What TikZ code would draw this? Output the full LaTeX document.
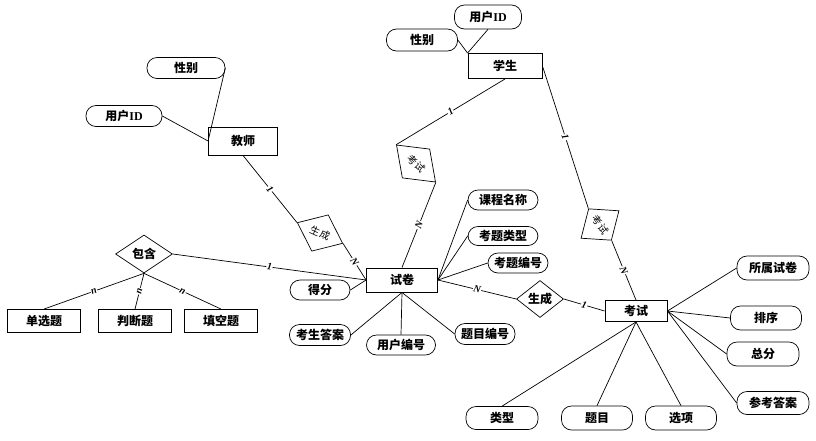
\documentclass[tikz,border=0pt]{standalone}
\usepackage{fontspec}
\setmainfont{Noto Sans CJK SC}
\newfontfamily\latinfont{Liberation Serif}
\usetikzlibrary{shapes.geometric}

\begin{document}
\begin{tikzpicture}[x=1pt, y=-1pt, line width=0.7pt,
  entity/.style={draw, line width=0.9pt, inner sep=0pt, minimum width=72pt, minimum height=24pt,
    font=\fontsize{12}{14}\selectfont\bfseries},
  attr/.style={draw, rectangle, rounded corners=10pt, inner sep=0pt, minimum width=71pt, minimum height=22pt,
    font=\fontsize{12}{14}\selectfont\bfseries},
  rel/.style={draw, diamond, inner sep=0pt, font=\fontsize{12}{14}\selectfont\bfseries},
  tilted/.style={draw, diamond, inner sep=0pt, font=\fontsize{10}{12}\selectfont},
  card/.style={sloped, fill=white, inner sep=0.6pt, font=\latinfont\itshape\bfseries\fontsize{10}{12}\selectfont}]
  \useasboundingbox (0,0) rectangle (816,440);

  % entities
  \node[entity, minimum width=69pt, minimum height=28pt] (teacher) at (243,141) {教师};
  \node[entity, minimum width=74pt, minimum height=25pt] (student) at (505,66) {学生};
  \node[entity, minimum width=71pt] (paper) at (402,280) {试卷};
  \node[entity, minimum width=62pt, minimum height=21pt] (exam) at (636,311) {考试};
  \node[entity, minimum width=73pt, minimum height=23pt] (single) at (44,321) {单选题};
  \node[entity, minimum width=73pt, minimum height=23pt] (judge) at (135,321) {判断题};
  \node[entity, minimum width=73pt, minimum height=23pt] (blank) at (221,321) {填空题};

  % relationships
  \node[rel, minimum width=57pt, minimum height=38pt] (contain) at (144,254) {包含};
  \node[rel, minimum width=47pt, minimum height=37pt] (genexam) at (540,299) {生成};
  \node[tilted, minimum width=50pt, minimum height=40pt, rotate=-24.5] (genpaper) at (320,233) {生\kern1pt 成};
  \node[tilted, minimum width=54pt, minimum height=40pt, rotate=-43.5] (takepaper) at (416,163.5) {考\kern1pt 试};
  \node[tilted, minimum width=39pt, minimum height=47pt, rotate=-54] (takeexam) at (600,224.5) {考\kern1pt 试};

  % attributes of teacher and student
  \node[attr, minimum width=78pt, minimum height=21pt] (tsex) at (186,68) {性别};
  \node[attr, minimum width=76pt, minimum height=21pt] (tuid) at (124,116) {用户{\latinfont ID}};
  \node[attr, minimum width=67pt, minimum height=24pt] (suid) at (488,17) {用户{\latinfont ID}};
  \node[attr, minimum height=22pt] (ssex) at (422,40) {性别};
  % attributes of paper
  \node[attr, minimum width=70pt, minimum height=20pt] (course) at (503,200) {课程名称};
  \node[attr, minimum width=70pt, minimum height=19pt] (qtype) at (503,236) {考题类型};
  \node[attr, minimum width=60pt, minimum height=20pt] (qno) at (518,263) {考题编号};
  \node[attr, minimum width=60pt, minimum height=20pt] (score) at (320,290) {得分};
  \node[attr, minimum width=61pt, minimum height=21pt] (answer) at (320,335) {考生答案};
  \node[attr, minimum width=69pt, minimum height=20pt] (userno) at (401,345) {用户编号};
  \node[attr, minimum width=60pt, minimum height=21pt] (itemno) at (485,334) {题目编号};
  % attributes of exam
  \node[attr, minimum width=72pt, minimum height=23pt] (kind) at (502,418) {类型};
  \node[attr, minimum height=24pt] (item) at (597,418) {题目};
  \node[attr, minimum height=24pt] (option) at (681,418) {选项};
  \node[attr, minimum width=72pt, minimum height=24pt] (owner) at (773,268) {所属试卷};
  \node[attr, minimum height=24pt] (order) at (766,318) {排序};
  \node[attr, minimum width=72pt, minimum height=24pt] (total) at (763,354) {总分};
  \node[attr, minimum width=72pt, minimum height=23pt] (key) at (773,403) {参考答案};

  % attribute links
  \foreach \a in {tsex,tuid} \draw (\a.east) -- (teacher.west);
  \draw (ssex.east) -- (student.north west);
  \draw (suid.south) -- (student.north west);
  \foreach \a in {course,qtype,qno} \draw (paper.east) -- (\a.west);
  \draw (score.east) -- (paper.west);
  \draw (paper.south) -- (answer.east);
  \draw (paper.south) -- (userno.north);
  \draw (paper.south) -- (itemno.west);
  \foreach \a in {owner,order,total,key} \draw (exam.east) -- (\a.west);
  \foreach \a in {kind,item,option} \draw (exam.south) -- (\a.north);

  % relationship links with cardinalities
  \draw (teacher.south) -- node[card] {1} (genpaper.west);
  \draw (genpaper.east) -- node[card] {N} (paper.west);
  \draw (student.south) -- node[card] {1} (takepaper.west);
  \draw (takepaper.east) -- node[card] {N} (paper.north);
  \draw (student.east) -- node[card] {1} (takeexam.west);
  \draw (takeexam.east) -- node[card] {N} (exam.north);
  \draw (contain.east) -- node[card] {1} (paper.west);
  \foreach \q in {single,judge,blank}
    \draw (contain.south) -- node[card] {n} (\q.north);
  \draw (paper.east) -- node[card] {N} (genexam.west);
  \draw (genexam.east) -- node[card] {1} (exam.west);
\end{tikzpicture}
\end{document}
